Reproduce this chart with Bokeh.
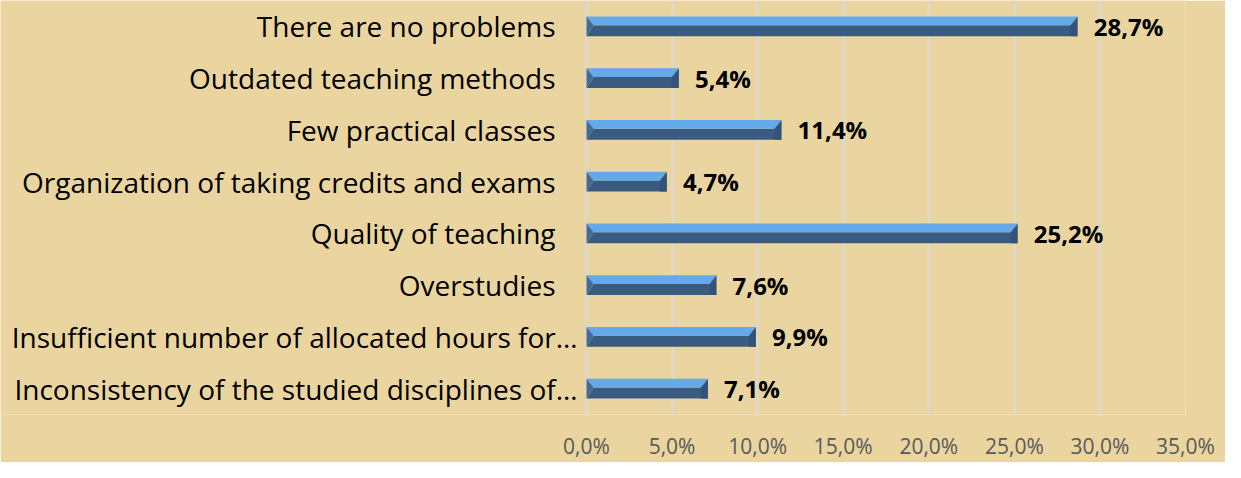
from bokeh.plotting import figure
from bokeh.models import ColumnDataSource, FixedTicker, Range1d
from bokeh.core.properties import value
from bokeh.embed import file_html
from bokeh.resources import INLINE

categories = [
    "There are no problems",
    "Outdated teaching methods",
    "Few practical classes",
    "Organization of taking credits and exams",
    "Quality of teaching",
    "Overstudies",
    "Insufficient number of allocated hours for…",
    "Inconsistency of the studied disciplines of…",
]
values = [28.7, 5.4, 11.4, 4.7, 25.2, 7.6, 9.9, 7.1]
x_ticks = [0, 5, 10, 15, 20, 25, 30, 35]
x_tick_labels = ["0,0%", "5,0%", "10,0%", "15,0%", "20,0%", "25,0%", "30,0%", "35,0%"]

BG = "#EAD5A1"
W, H = 1225, 462
RIGHT_BORDER = 40
ZERO_PX = 586  # pixel position of the 0% line inside the figure
n = len(categories)
ys = [n - 1 - i for i in range(n)]
xmax = x_ticks[-1]
xmin = -xmax * ZERO_PX / (W - RIGHT_BORDER - ZERO_PX)

p = figure(width=W, height=H, output_backend="svg", toolbar_location=None,
           x_range=Range1d(xmin, xmax), y_range=Range1d(-0.5, n - 0.5),
           min_border_left=0, min_border_right=RIGHT_BORDER, min_border_top=0, min_border_bottom=46)
p.background_fill_color = BG
p.border_fill_color = BG
p.outline_line_color = None

# bevelled bars
h = 0.19
d = 0.42
top_xs, top_ys, bot_xs, bot_ys, l_xs, l_ys, r_xs, r_ys = [], [], [], [], [], [], [], []
for v, y in zip(values, ys):
    top_xs.append([0, v, v - d, d]); top_ys.append([y + h, y + h, y + 0.02, y + 0.02])
    bot_xs.append([0, v, v - d, d]); bot_ys.append([y - h, y - h, y + 0.02, y + 0.02])
    l_xs.append([0, d, 0]); l_ys.append([y + h, y + 0.02, y - h])
    r_xs.append([v, v - d, v - d, v]); r_ys.append([y + h, y + 0.02, y - h, y - h])

p.patches(bot_xs, bot_ys, fill_color="#3A5B80", line_color=None)
p.patches(top_xs, top_ys, fill_color="#64A9EA", line_color=None)
p.patches(l_xs, l_ys, fill_color="#456A94", line_color=None)
p.patches(r_xs, r_ys, fill_color="#33547A", line_color=None)

p.yaxis.visible = False
p.ygrid.visible = False

cat_src = ColumnDataSource(dict(
    x=[0] * n, y=ys, text=categories,
    off=[-9 if c.endswith("…") else -31 for c in categories],
))
p.text(x="x", y="y", text="text", source=cat_src, x_offset="off",
       text_align="right", text_baseline="middle",
       text_font=value("Open Sans"), text_font_size="28px", text_color="#000000")

val_src = ColumnDataSource(dict(
    x=values, y=ys, text=[f"{v:.1f}%".replace(".", ",") for v in values],
))
p.text(x="x", y="y", text="text", source=val_src, x_offset=16,
       text_align="left", text_baseline="middle",
       text_font=value("Open Sans"), text_font_style="bold",
       text_font_size="24px", text_color="#000000")

# x axis
p.xaxis.ticker = FixedTicker(ticks=x_ticks)
p.xaxis.major_label_overrides = {t: lab for t, lab in zip(x_ticks, x_tick_labels)}
p.xaxis.axis_line_color = None
p.xaxis.major_tick_line_color = None
p.xaxis.minor_tick_line_color = None
p.xaxis.major_tick_out = 0
p.xaxis.major_label_standoff = 17
p.xaxis.major_label_text_font = "Open Sans"
p.xaxis.major_label_text_font_size = "21px"
p.xaxis.major_label_text_color = "#595959"
p.xgrid.grid_line_color = "#D9D9D9"
p.xgrid.grid_line_width = 2
p.xgrid.ticker = FixedTicker(ticks=x_ticks)

open("out.html", "w").write(file_html(p, INLINE))
